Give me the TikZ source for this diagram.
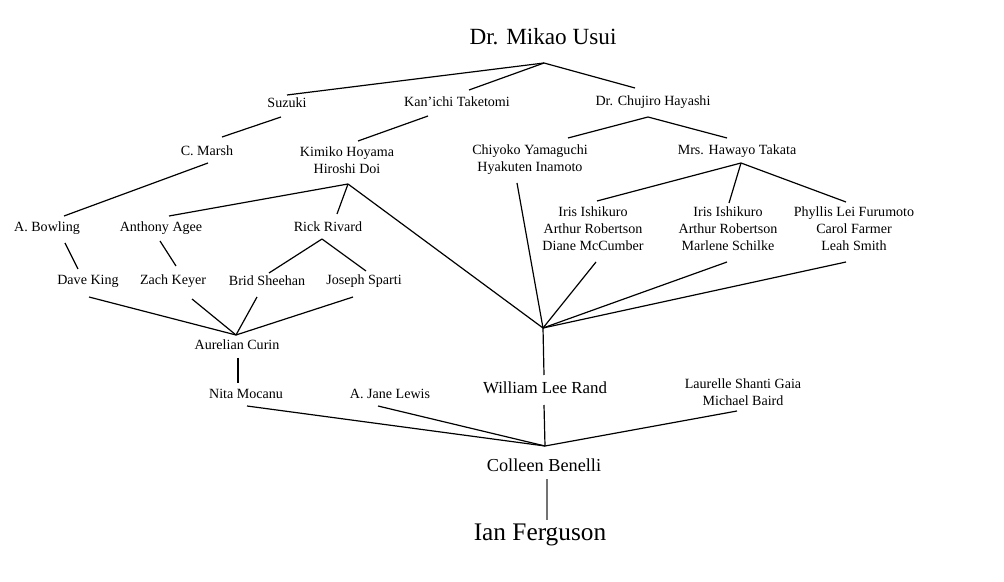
\documentclass[tikz,border=0pt]{standalone}
\usepackage{fontspec}
\setmainfont{Liberation Serif}
\usetikzlibrary{calc}
\begin{document}
\begin{tikzpicture}[x=0.025cm,y=-0.025cm,
  person/.style={inner sep=0pt,align=center,font=\fontsize{10}{12}\selectfont},
  link/.style={line width=0.85pt}]
\useasboundingbox (0,0) rectangle (1004,582);
\node[person,font=\fontsize{16.5}{20}\selectfont] (usui) at (543,37) {Dr. Mikao Usui};
\node[person,font=\fontsize{12}{14}\selectfont] (rand) at (545,388) {William Lee Rand};
\node[person,font=\fontsize{13}{15}\selectfont] (colleen) at (544,465) {Colleen Benelli};
\node[person,font=\fontsize{18}{21}\selectfont] (ian) at (540,535) {Ian Ferguson};
\foreach \nm/\px/\py/\txt in {suzuki/287/103/Suzuki,kan/457/102/Kan’ichi Taketomi,
  hayashi/653/102/Dr. Chujiro Hayashi,marsh/207/151/C. Marsh,
  kimiko/347/160/Kimiko Hoyama\\Hiroshi Doi,chiyoko/530/160/Chiyoko Yamaguchi\\Hyakuten Inamoto,
  takata/737/151/Mrs. Hawayo Takata,bowling/47/228/A. Bowling,agee/161/228/Anthony Agee,
  rivard/328/227/Rick Rivard,iris1/593/229/Iris Ishikuro\\Arthur Robertson\\Diane McCumber,
  iris2/728/229/Iris Ishikuro\\Arthur Robertson\\Marlene Schilke,
  phyllis/854/229/Phyllis Lei Furumoto\\Carol Farmer\\Leah Smith,
  dave/88/281/Dave King,zach/173/281/Zach Keyer,brid/267/281/Brid Sheehan,
  sparti/364/281/Joseph Sparti,curin/237/345/Aurelian Curin,nita/246/394/Nita Mocanu,
  jane/390/394/A. Jane Lewis,laurelle/743/392/Laurelle Shanti Gaia\\Michael Baird}
  \node[person] (\nm) at (\px,\py) {\txt};
\foreach \c/\nm/\dx/\dy in {usuiJ/usui/1/26,suzukiT/suzuki/0/-8,kanT/kan/12/-12,
  hayashiT/hayashi/-18/-14,suzukiB/suzuki/-6/14,marshT/marsh/15/-14,kanB/kan/-29/14,
  kimikoT/kimiko/11/-19,hayashiJ/hayashi/-5/15,chiyokoT/chiyoko/38/-22,takataT/takata/-10/-13,
  marshB/marsh/1/12,bowlingT/bowling/17/-12,kimikoJ/kimiko/1/24,ageeT/agee/8/-12,
  rivardT/rivard/9/-13,chiyokoB/chiyoko/-13/23,takataJ/takata/4/12,iris1T/iris1/4/-28,
  iris2T/iris2/1/-26,phyllisT/phyllis/-8/-27,iris1B/iris1/3/33,iris2B/iris2/-1/33,
  phyllisB/phyllis/-8/33,bowlingB/bowling/18/15,daveT/dave/-10/-12,ageeB/agee/-1/13,
  zachT/zach/3/-15,rivardJ/rivard/-6/12,bridT/brid/2/-8,spartiT/sparti/2/-10,
  curinJ/curin/-1/-10,daveB/dave/1/16,zachB/zach/19/18,bridB/brid/-10/16,
  spartiB/sparti/-11/16,curinB/curin/1/13,nitaT/nita/-8/-11,randJ/rand/-2/-60,
  randT/rand/-1/-13,randB/rand/-1/17,colleenJ/colleen/1/-19,nitaB/nita/1/12,
  janeB/jane/-12/12,laurelleB/laurelle/-6/19,colleenB/colleen/3/14,ianT/ian/7/-15}
  \coordinate (\c) at ($(\nm)+(\dx,\dy)$);
\foreach \a/\b in {usuiJ/suzukiT,usuiJ/kanT,usuiJ/hayashiT,suzukiB/marshT,kanB/kimikoT,
  hayashiJ/chiyokoT,hayashiJ/takataT,marshB/bowlingT,kimikoJ/ageeT,kimikoJ/rivardT,
  kimikoJ/randJ,chiyokoB/randJ,takataJ/iris1T,takataJ/iris2T,takataJ/phyllisT,
  iris1B/randJ,iris2B/randJ,phyllisB/randJ,bowlingB/daveT,ageeB/zachT,rivardJ/bridT,
  rivardJ/spartiT,daveB/curinJ,zachB/curinJ,bridB/curinJ,spartiB/curinJ,curinB/nitaT,
  randJ/randT,randB/colleenJ,nitaB/colleenJ,janeB/colleenJ,laurelleB/colleenJ}
  \draw[link] (\a) -- (\b);
\draw[link,line width=1.5pt,black!55] (colleenB) -- (ianT);
\end{tikzpicture}
\end{document}
